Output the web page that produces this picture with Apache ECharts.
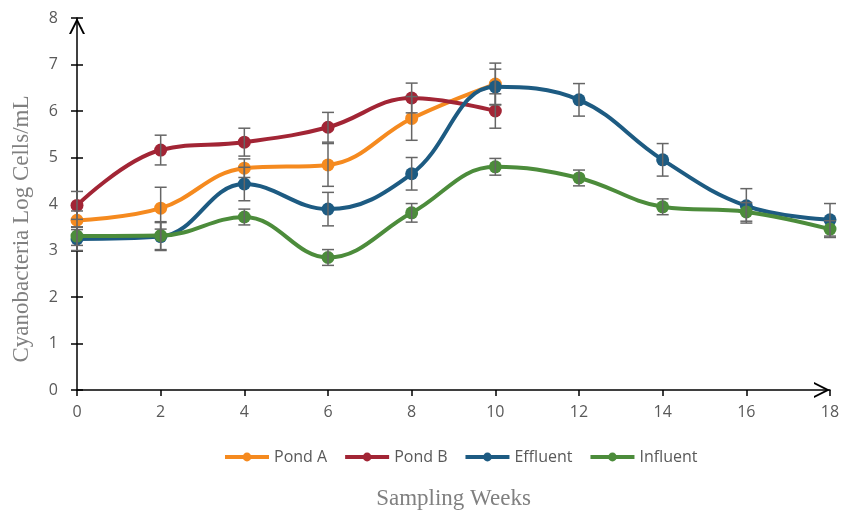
<!DOCTYPE html>
<html><head><meta charset="utf-8">
<script src="https://cdn.jsdelivr.net/npm/echarts@6/dist/echarts.min.js"></script>
<style>html,body{margin:0;padding:0;background:#fff}#c{width:854px;height:511px}</style>
</head><body><div id="c"></div>
<script>
var weeks = [0, 2, 4, 6, 8, 10, 12, 14, 16, 18];
var yTicks = [0, 1, 2, 3, 4, 5, 6, 7, 8];
var seriesNames = ['Pond A', 'Pond B', 'Effluent', 'Influent'];
var pondA = [3.65, 3.91, 4.77, 4.84, 5.84, 6.58];
var pondB = [3.97, 5.16, 5.33, 5.65, 6.28, 6.0];
var effluent = [3.25, 3.3, 4.43, 3.89, 4.65, 6.52, 6.24, 4.95, 3.96, 3.66];
var influent = [3.31, 3.32, 3.72, 2.85, 3.81, 4.8, 4.56, 3.94, 3.83, 3.46];
var errA = [0.2, 0.45, 0.2, 0.46, 0.47, 0.45];
var errB = [0.3, 0.32, 0.3, 0.32, 0.32, 0.37];
var errE = [0.25, 0.3, 0.36, 0.36, 0.35, 0.38, 0.35, 0.35, 0.37, 0.35];
var errI = [0.2, 0.3, 0.17, 0.17, 0.2, 0.18, 0.17, 0.17, 0.2, 0.18];
var colors = ['#F58A1F', '#A22535', '#1D5B82', '#4C8C3B'];

var values = [pondA, pondB, effluent, influent];
var errs = [errA, errB, errE, errI];

var chart = echarts.init(document.getElementById('c'));
var series = [];
values.forEach(function (v, i) {
  series.push({
    name: seriesNames[i], type: 'line', smooth: 0.4,
    data: v.map(function (y, k) { return [weeks[k], y]; }),
    symbol: 'circle', symbolSize: 13,
    lineStyle: { width: 4, color: colors[i] },
    itemStyle: { color: colors[i] },
    z: 2 + i
  });
});
var errData = [];
values.forEach(function (v, i) {
  v.forEach(function (y, k) { errData.push([weeks[k], y - errs[i][k], y + errs[i][k]]); });
});
series.push({
  type: 'custom', silent: true, z: 10,
  data: errData,
  renderItem: function (params, api) {
    var lo = api.coord([api.value(0), api.value(1)]);
    var hi = api.coord([api.value(0), api.value(2)]);
    var w = 6;
    var st = { stroke: '#666', lineWidth: 1.5, fill: null };
    return { type: 'group', children: [
      { type: 'line', shape: { x1: lo[0], y1: lo[1], x2: hi[0], y2: hi[1] }, style: st },
      { type: 'line', shape: { x1: lo[0] - w, y1: lo[1], x2: lo[0] + w, y2: lo[1] }, style: st },
      { type: 'line', shape: { x1: hi[0] - w, y1: hi[1], x2: hi[0] + w, y2: hi[1] }, style: st }
    ]};
  }
});

var chevron = 'path://M0,10 L5,0 L10,10 L8.7,10 L5,2.6 L1.3,10 Z';
var tickFont = { fontFamily: 'Open Sans', fontSize: 16, color: '#595959' };

chart.setOption({
  animation: false,
  color: colors,
  grid: { left: 77, right: 24, top: 18, bottom: 121, outerBoundsMode: 'none', containLabel: false },
  legend: {
    data: seriesNames, top: 444, left: 218,
    itemWidth: 44, itemHeight: 11, itemGap: 16,
    lineStyle: { width: 4 },
    textStyle: { fontFamily: 'Open Sans', fontSize: 16, color: '#595959' }
  },
  xAxis: {
    type: 'value', min: 0, max: 18, interval: 2,
    name: 'Sampling Weeks', nameLocation: 'middle', nameGap: 97,
    nameTextStyle: { fontFamily: 'Liberation Serif', fontSize: 23, color: '#808080' },
    axisLine: { show: true, lineStyle: { color: '#000', width: 1.5 }, symbol: ['none', chevron], symbolSize: [16, 16], symbolOffset: [0, -8] },
    axisTick: { show: true, length: 6, lineStyle: { color: '#000', width: 1.5 } },
    axisLabel: Object.assign({ margin: 14, formatter: function (v) { return weeks.indexOf(v) >= 0 ? String(v) : ''; } }, tickFont),
    splitLine: { show: false }
  },
  yAxis: [{
    type: 'value', min: 0, max: 8, interval: 1,
    name: 'Cyanobacteria Log Cells/mL', nameLocation: 'middle', nameGap: 44,
    nameTextStyle: { fontFamily: 'Liberation Serif', fontSize: 23, color: '#808080', padding: [0, 50, 0, 0] },
    axisLine: { show: true, lineStyle: { color: '#000', width: 1.5 }, symbol: ['none', chevron], symbolSize: [16, 16], symbolOffset: [0, -8] },
    axisTick: { show: true, length: 6, lineStyle: { color: '#000', width: 1.5 } },
    axisLabel: Object.assign({ margin: 19, formatter: function (v) { return yTicks.indexOf(v) >= 0 ? String(v) : ''; } }, tickFont),
    splitLine: { show: false }
  }, {
    type: 'value', min: 0, max: 8, interval: 1, position: 'left',
    axisLine: { show: false },
    axisTick: { show: true, inside: true, length: 6, lineStyle: { color: '#000', width: 1.5 } },
    axisLabel: { show: false }, splitLine: { show: false }
  }],
  series: series
});
</script></body></html>
